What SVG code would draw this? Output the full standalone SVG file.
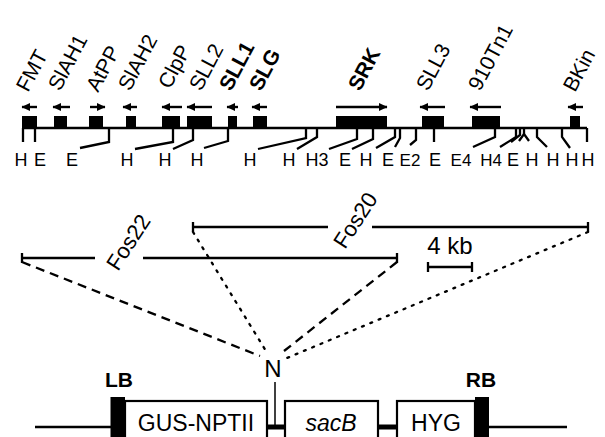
<svg xmlns="http://www.w3.org/2000/svg" width="605" height="437" viewBox="0 0 605 437">
<defs>
<marker id="ah" markerUnits="userSpaceOnUse" markerWidth="9" markerHeight="9" refX="8" refY="4.5" orient="auto">
<path d="M0,0.5 L8.5,4.5 L0,8.5 Z" fill="#000"/>
</marker>
<style>
.t{font-family:"Liberation Sans",Arial,sans-serif;fill:#000}
.g{font-size:21px}
.b{font-weight:bold}
.s{font-size:18px;text-anchor:middle}
.ln{stroke:#000;stroke-width:2.3;fill:none}
.arr{stroke:#000;stroke-width:2.4;fill:none;marker-end:url(#ah)}
.box{fill:#000}
.ctr{font-size:21px;text-anchor:middle}
.wb{fill:#fff;stroke:#000;stroke-width:2.2}
.big{font-size:23px;text-anchor:middle}
</style>
</defs>
<rect width="605" height="437" fill="#fff"/>

<g id="map">
<line class="ln" x1="22" y1="128" x2="587" y2="128"/>
<g id="genes">
<g id="FMT"><rect class="box" x="22" y="116" width="15" height="12"/><line class="arr" x1="37" y1="107" x2="22" y2="107"/><text class="t g" transform="translate(28,93) rotate(-62)">FMT</text></g>
<g id="SIAH1"><rect class="box" x="54" y="116" width="13" height="12"/><line class="arr" x1="70" y1="107" x2="53" y2="107"/><text class="t g" transform="translate(60,92) rotate(-62)">SlAH1</text></g>
<g id="AtPP"><rect class="box" x="89" y="116" width="14" height="12"/><line class="arr" x1="90" y1="107" x2="105" y2="107"/><text class="t g" transform="translate(98,93) rotate(-62)">AtPP</text></g>
<g id="SIAH2"><rect class="box" x="126" y="116" width="10" height="12"/><line class="arr" x1="137" y1="107" x2="123" y2="107"/><text class="t g" transform="translate(130,92) rotate(-62)">SlAH2</text></g>
<g id="ClpP"><rect class="box" x="162" y="116" width="18" height="12"/><line class="arr" x1="182" y1="107" x2="162" y2="107"/><text class="t g" transform="translate(170,90) rotate(-62)">ClpP</text></g>
<g id="SLL2"><rect class="box" x="187" y="116" width="25" height="12"/><line class="arr" x1="212" y1="107" x2="187" y2="107"/><text class="t g" transform="translate(201,92) rotate(-62)">SLL2</text></g>
<g id="SLL1"><rect class="box" x="228" y="116" width="9" height="12"/><line class="arr" x1="238" y1="107" x2="227" y2="107"/><text class="t g b" transform="translate(231,92) rotate(-62)">SLL1</text></g>
<g id="SLG"><rect class="box" x="253" y="116" width="14" height="12"/><line class="arr" x1="267" y1="107" x2="252" y2="107"/><text class="t g b" transform="translate(261,92) rotate(-62)">SLG</text></g>
<g id="SRK"><rect class="box" x="336" y="116" width="51" height="12"/><line class="arr" x1="336" y1="107" x2="387" y2="107"/><text class="t g b" transform="translate(360,92) rotate(-62)">SRK</text></g>
<g id="SLL3"><rect class="box" x="422" y="116" width="22" height="12"/><line class="arr" x1="445" y1="107" x2="420" y2="107"/><text class="t g" transform="translate(428,92) rotate(-62)">SLL3</text></g>
<g id="T910Tn1"><rect class="box" x="472" y="116" width="28" height="12"/><line class="arr" x1="501" y1="107" x2="470" y2="107"/><text class="t g" transform="translate(480,92) rotate(-62)">910Tn1</text></g>
<g id="BKin"><rect class="box" x="570" y="116" width="10" height="12"/><line class="arr" x1="583" y1="107" x2="568" y2="107"/><text class="t g" transform="translate(575,93) rotate(-62)">BKin</text></g>
</g>
<g id="sites" class="ln">
<polyline points="23,128 23,142"/>
<polyline points="35,128 35,142"/>
<polyline points="109,128 109,142 80,148"/>
<polyline points="173,128 173,142 135,149"/>
<polyline points="193,128 193,140 173,149"/>
<polyline points="228,128 228,141 204,148"/>
<polyline points="306,128 306,138 258,149"/>
<polyline points="317,128 317,137 297,149"/>
<polyline points="357,128 357,139 329,149"/>
<polyline points="373,128 373,139 352,149"/>
<polyline points="395,128 395,137 376,148"/>
<polyline points="400,128 400,138 395,147"/>
<polyline points="416,128 416,140 410,145"/>
<polyline points="434,128 434,142"/>
<polyline points="495,128 495,137 473,147"/>
<polyline points="516,128 516,137 500,147"/>
<polyline points="520,128 520,135 511,142"/>
<polyline points="519,141 524,134 529,141"/>
<polyline points="524,128 524,134"/>
<polyline points="537,128 537,137 547,147"/>
<polyline points="562,128 562,137 570,148"/>
<polyline points="587,128 587,142"/>
</g>
<g id="site-labels" class="t s">
<text x="21" y="166">H</text><text x="40" y="166">E</text><text x="72" y="166">E</text>
<text x="127" y="166">H</text><text x="165" y="166">H</text><text x="197" y="166">H</text>
<text x="250" y="166">H</text><text x="289" y="166">H</text><text x="317" y="166">H3</text>
<text x="345" y="166">E</text><text x="366" y="166">H</text><text x="388" y="166">E</text>
<text x="410" y="166" font-size="17">E2</text><text x="435" y="166">E</text><text x="461" y="166" font-size="17">E4</text>
<text x="491" y="166" font-size="17">H4</text><text x="513" y="166">E</text><text x="532" y="166">H</text>
<text x="553" y="166">H</text><text x="572" y="166">H</text><text x="588" y="166">H</text>
</g>
</g>

<g id="Fos20">
<path class="ln" d="M193,227 H328 M372,227 H588 M193,222 V232 M588,222 V232"/>
<text class="t" font-size="22" transform="translate(345,250) rotate(-57)">Fos20</text>
</g>
<g id="Fos22">
<path class="ln" d="M22,258 H95 M143,258 H397 M22,253 V263 M397,253 V263"/>
<text class="t" font-size="22" transform="translate(118,272) rotate(-57)">Fos22</text>
</g>
<g id="scale">
<path class="ln" d="M428,267 H472 M428,262 V272 M472,262 V272"/>
<text class="t" font-size="24" text-anchor="middle" x="450" y="254">4 kb</text>
</g>

<g id="connectors" fill="none" stroke="#000" stroke-width="2.3">
<line x1="22" y1="262" x2="260" y2="356" stroke-dasharray="9,6"/>
<line x1="397" y1="262" x2="284" y2="351" stroke-dasharray="9,6"/>
<line x1="193" y1="232" x2="266" y2="351" stroke-dasharray="2,7" stroke-linecap="round"/>
<line x1="588" y1="232" x2="287" y2="358" stroke-dasharray="2,7" stroke-linecap="round"/>
<line x1="275" y1="382" x2="275" y2="427" stroke-width="1.5"/>
</g>
<g id="N"><text class="t" font-size="24" text-anchor="middle" x="273" y="377">N</text></g>

<g id="construct">
<path class="ln" d="M35,427 H111 M489,427 H567"/>
<path stroke="#000" stroke-width="5" d="M267,427 H285 M378,427 H397"/>
</g>
<g id="LB"><rect class="box" x="110.5" y="397" width="14.5" height="45"/><text class="t ctr b" x="119" y="387">LB</text></g>
<g id="GUS"><rect class="wb" x="125" y="401" width="142" height="45"/><text class="t big" x="196" y="431">GUS-NPTII</text></g>
<g id="sacB"><rect class="wb" x="285" y="401" width="93" height="45"/><text class="t big" font-style="italic" x="331" y="431">sacB</text></g>
<g id="HYG"><rect class="wb" x="397" y="401" width="78" height="45"/><text class="t big" x="436" y="431">HYG</text></g>
<g id="RB"><rect class="box" x="475" y="397" width="14" height="45"/><text class="t ctr b" x="481" y="387">RB</text></g>
</svg>
